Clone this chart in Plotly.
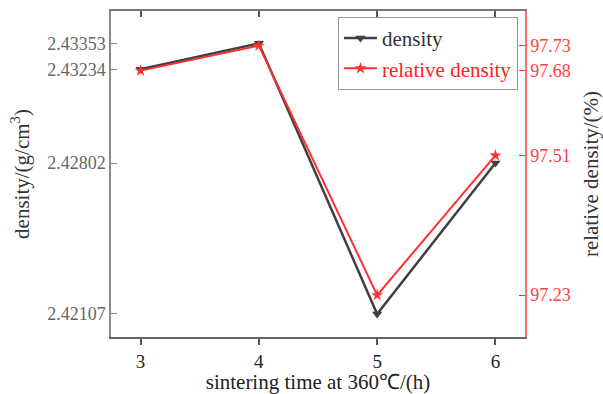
import plotly.graph_objects as go

time_h = [3, 4, 5, 6]
density = [2.43234, 2.43353, 2.42107, 2.42802]
rel_density = [97.68, 97.73, 97.23, 97.51]
left_ticks = [2.42107, 2.42802, 2.43234, 2.43353]
right_ticks = [97.23, 97.51, 97.68, 97.73]

FONT = "Liberation Serif"
GRAY = "#404040"
RED = "#ff3030"

fig = go.Figure()
fig.add_trace(go.Scatter(
    x=time_h, y=density, name="density", mode="lines+markers",
    line=dict(color=GRAY, width=2.5),
    marker=dict(symbol="triangle-down", size=9, color=GRAY),
    legendgroup="a", yaxis="y", xaxis="x"))
fig.add_trace(go.Scatter(
    x=time_h, y=rel_density, name='<span style="color:#ff2020">relative density</span>',
    mode="lines+markers",
    line=dict(color=RED, width=2),
    marker=dict(symbol="star", size=9, color=RED),
    legendgroup="b", yaxis="y2", xaxis="x"))
# invisible trace to carry the top (mirror) axis
fig.add_trace(go.Scatter(
    x=time_h, y=density, xaxis="x2", yaxis="y", mode="markers",
    marker=dict(opacity=0), showlegend=False, hoverinfo="skip"))

fig.update_layout(
    width=603, height=394,
    margin=dict(l=111, r=78, t=11, b=57, autoexpand=False),
    paper_bgcolor="white", plot_bgcolor="white",
    font=dict(family=FONT, size=18, color="#333"),
    showlegend=True,
    legend=dict(
        x=0.983, xanchor="right", y=0.982, yanchor="top",
        bgcolor="white", bordercolor="#999", borderwidth=1,
        font=dict(family=FONT, size=21, color="#333"),
        tracegroupgap=0, traceorder="grouped", itemwidth=33),
    xaxis=dict(
        range=[2.75, 6.25], tickvals=time_h, ticktext=[str(t) for t in time_h],
        ticks="outside", ticklen=6, tickwidth=1.5, tickcolor="#555",
        showline=True, linecolor="#666", linewidth=2,
        showgrid=False, zeroline=False, automargin=False,
        tickfont=dict(family=FONT, size=19, color="#222"),
        title=dict(text="sintering time at 360℃/(h)", standoff=1,
                   font=dict(family=FONT, size=21, color="#222"))),
    xaxis2=dict(
        range=[2.75, 6.25], overlaying="x", side="top", anchor="y",
        tickvals=time_h, showticklabels=False,
        ticks="inside", ticklen=6, tickwidth=1.5, tickcolor="#555",
        showline=True, linecolor="#777", linewidth=1.5, automargin=False,
        showgrid=False, zeroline=False),
    yaxis=dict(
        range=[2.42001, 2.43502], tickvals=left_ticks,
        ticktext=[f"{v:.5f}" for v in left_ticks],
        ticks="inside", ticklen=6, tickwidth=1.2, tickcolor="#888",
        showline=True, linecolor="#888", linewidth=1.5,
        showgrid=False, zeroline=False, automargin=False,
        tickfont=dict(family=FONT, size=18, color="#666"),
        title=dict(text="density/(g/cm<sup>3</sup>)", standoff=12,
                   font=dict(family=FONT, size=21, color="#333"))),
    yaxis2=dict(
        range=[97.146, 97.7995], tickvals=right_ticks,
        ticktext=[f"{v:.2f}" for v in right_ticks],
        overlaying="y", side="right", anchor="x",
        ticks="inside", ticklen=6, tickwidth=1.2, tickcolor=RED,
        showline=True, linecolor="#ff7070", linewidth=1.5,
        showgrid=False, zeroline=False, automargin=False,
        tickfont=dict(family=FONT, size=18, color="#ff4040"),
        title=dict(text="relative density/(%)", standoff=17,
                   font=dict(family=FONT, size=21, color="#333"))),
)

fig.write_html("out.html")
